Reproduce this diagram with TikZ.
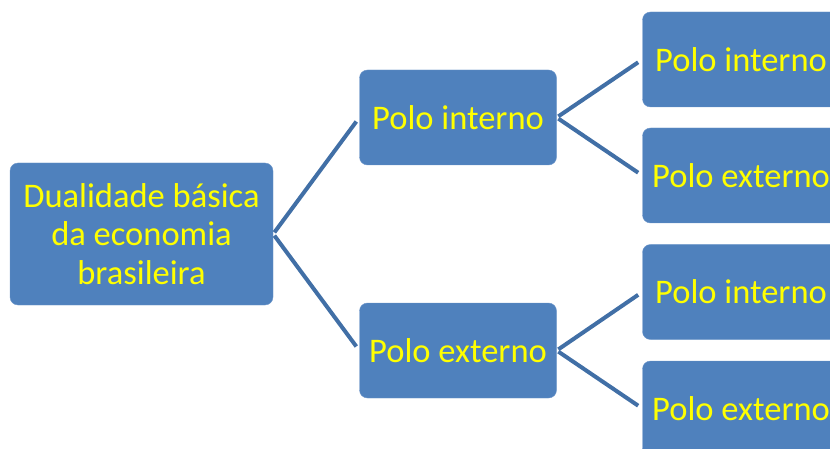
\documentclass[tikz,border=0pt]{standalone}
\usepackage{fontspec}
\setmainfont{Carlito}
\definecolor{boksblaa}{HTML}{4F81BD}
\definecolor{kantblaa}{HTML}{6C95C9}
\definecolor{linjeblaa}{HTML}{416FA6}
\definecolor{tekstgul}{HTML}{FFFF00}
\tikzset{
  boks/.style={rectangle,rounded corners=8pt,fill=boksblaa,draw=kantblaa,thin,
    text=tekstgul,align=center,inner sep=0pt,
    font=\fontsize{34.5}{38.5}\selectfont},
  gren/.style={draw=linjeblaa,line width=4pt,shorten <=2pt,shorten >=5pt}
}
\begin{document}
\begin{tikzpicture}[x=1pt,y=-1pt]
  %ramme som bildet
  	\useasboundingbox (0,0) rectangle (830,449);
  %rot
  	\node[boks,minimum width=263pt,minimum height=142pt] (dualidade) at (141.5,234) {Dualidade básica\\da economia\\brasileira};
  %midtre nivå
  	\node[boks,minimum width=197pt,minimum height=95pt] (interno) at (458,117.5) {Polo interno};
  	\node[boks,minimum width=197pt,minimum height=95pt] (externo) at (458,350.5) {Polo externo};
  %høyre nivå
  	\node[boks,minimum width=197pt,minimum height=95pt] (intint) at (741,59.5) {Polo interno};
  	\node[boks,minimum width=197pt,minimum height=95pt] (intext) at (741,175.5) {Polo externo};
  	\node[boks,minimum width=197pt,minimum height=95pt] (extint) at (741,292) {Polo interno};
  	\node[boks,minimum width=197pt,minimum height=95pt] (extext) at (741,408.5) {Polo externo};
  %grener
  	\draw[gren] (dualidade.east) -- (interno.west);
  	\draw[gren] (dualidade.east) -- (externo.west);
  	\draw[gren] (interno.east) -- (intint.west);
  	\draw[gren] (interno.east) -- (intext.west);
  	\draw[gren] (externo.east) -- (extint.west);
  	\draw[gren] (externo.east) -- (extext.west);
\end{tikzpicture}
\end{document}
